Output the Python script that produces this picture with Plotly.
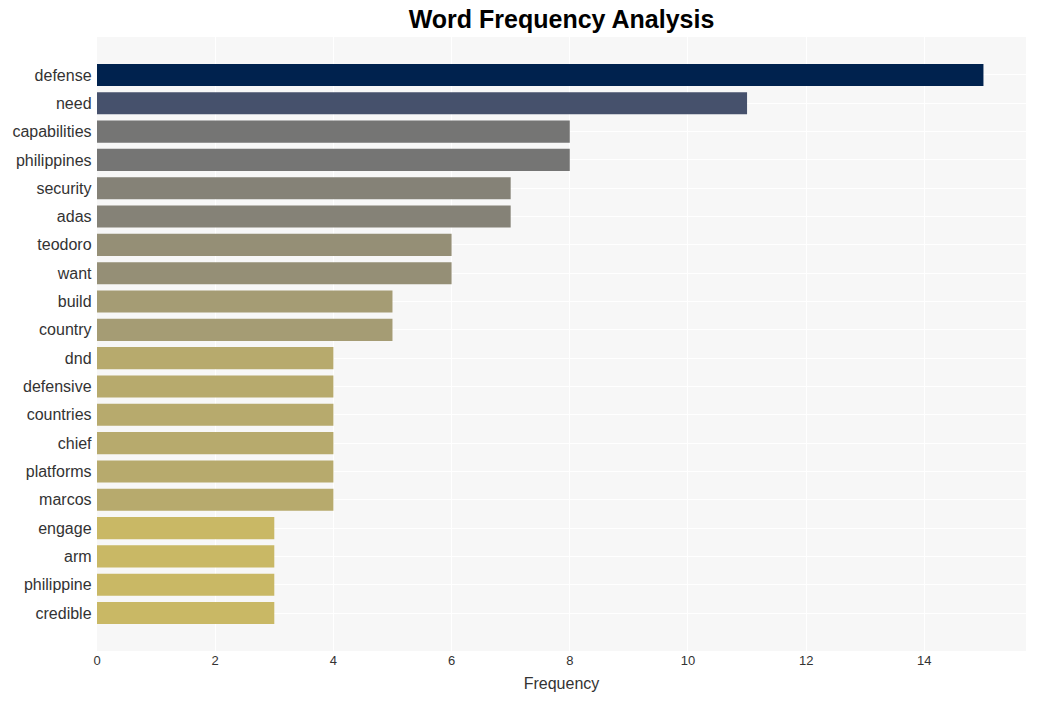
import plotly.graph_objects as go

words = ["defense", "need", "capabilities", "philippines", "security", "adas", "teodoro",
         "want", "build", "country", "dnd", "defensive", "countries", "chief", "platforms",
         "marcos", "engage", "arm", "philippine", "credible"]
counts = [15, 11, 8, 8, 7, 7, 6, 6, 5, 5, 4, 4, 4, 4, 4, 4, 3, 3, 3, 3]

y_words = words[::-1]
x_counts = counts[::-1]

fig = go.Figure(go.Bar(
    x=x_counts, y=y_words, orientation="h",
    marker=dict(color=x_counts, colorscale="Cividis", reversescale=True, cmin=0, cmax=15,
                line=dict(width=0)),
    width=0.78,
))

fig.update_layout(
    width=1037, height=701,
    margin=dict(l=97, r=11, t=37, b=50),
    title=dict(text="<b>Word Frequency Analysis</b>", x=0.5, xref="paper", xanchor="center",
               y=0.972, yanchor="middle",
               font=dict(family="Liberation Sans, Arial", size=25, color="black")),
    paper_bgcolor="white", plot_bgcolor="#f7f7f7",
    font=dict(family="Liberation Sans, Arial", color="#333"),
    xaxis=dict(title=dict(text="Frequency", font=dict(size=16, color="#333"), standoff=10),
               range=[0, 15.72], dtick=2, gridcolor="white", gridwidth=1, zeroline=False,
               tickfont=dict(size=13, color="#333")),
    yaxis=dict(range=[-1.34, 20.34], gridcolor="white", tickfont=dict(size=16, color="#333"),
               ticksuffix=" "),
    showlegend=False,
)

fig.write_html("out.html")
